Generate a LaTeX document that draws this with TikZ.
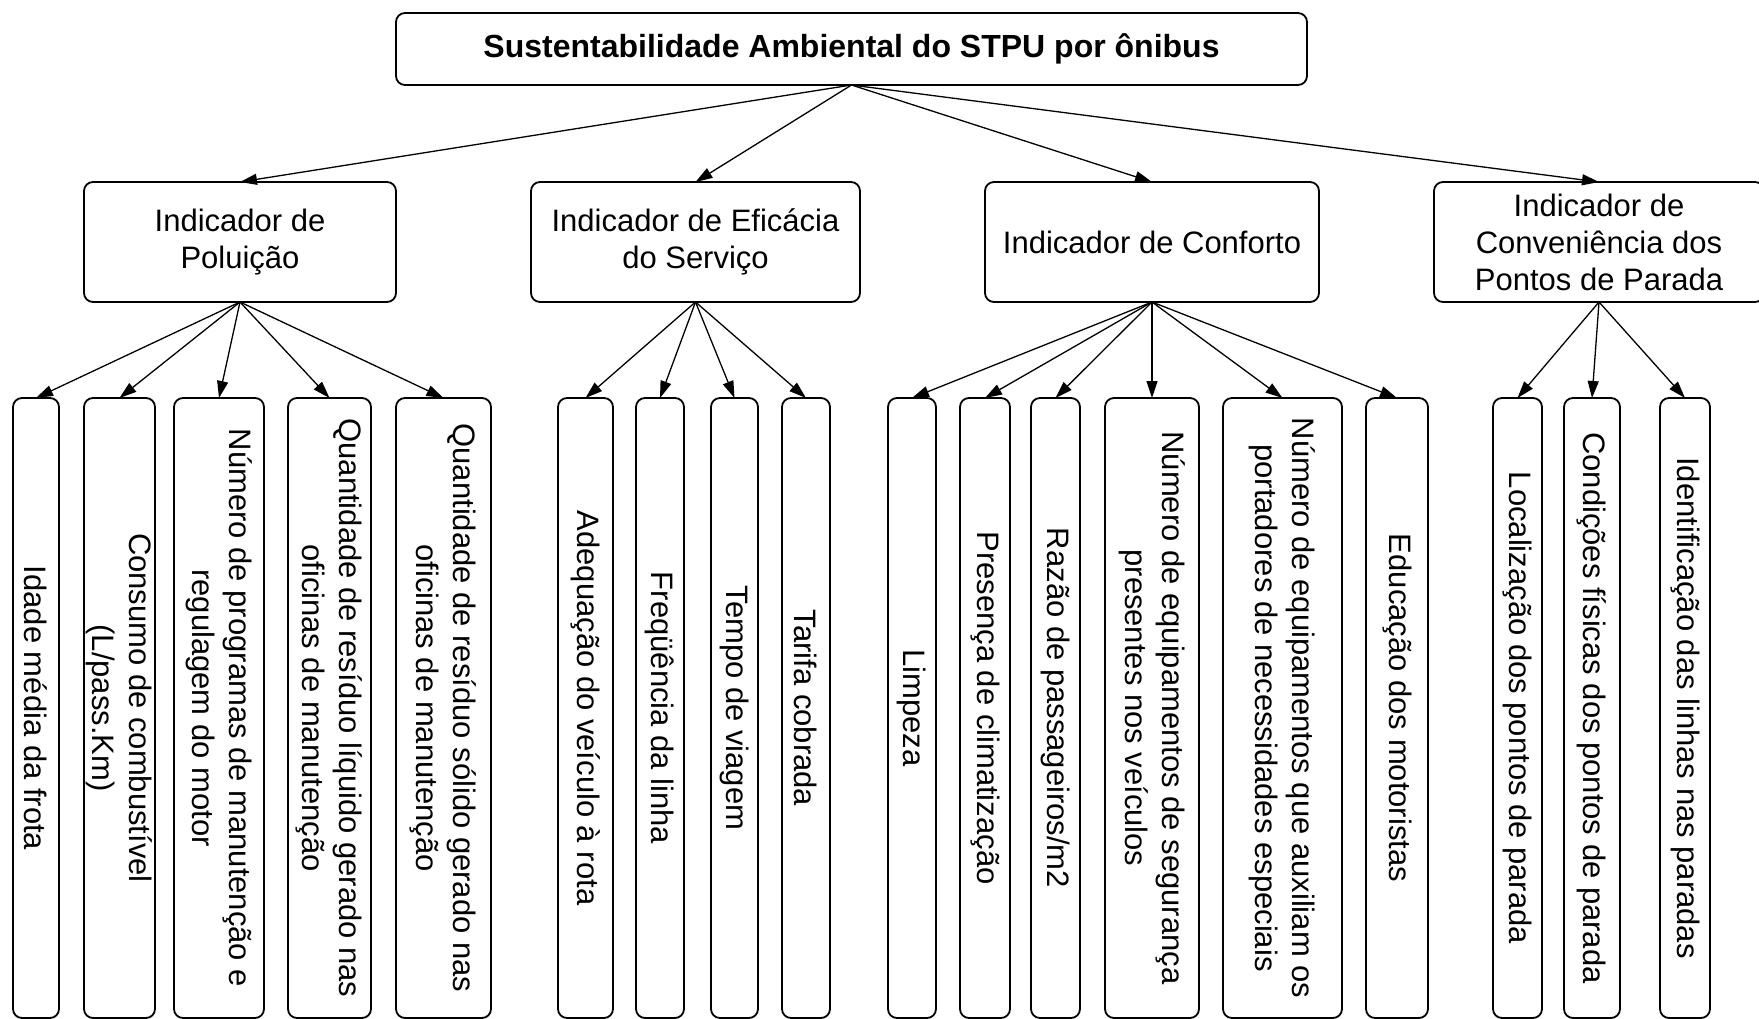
\documentclass[tikz,border=0pt]{standalone}
\usepackage{fontspec}
\setmainfont{Liberation Sans}
\usetikzlibrary{arrows.meta}
\begin{document}
\begin{tikzpicture}[x=1pt,y=-1pt,
  box/.style={draw=black, line width=1.8pt, rounded corners=9pt, inner sep=0pt, outer sep=0pt, fill=white},
  topbox/.style={box, minimum width=911pt, minimum height=72pt, font=\fontsize{32}{38}\selectfont\bfseries},
  midbox/.style={box, minimum height=120pt, align=center, font=\fontsize{31}{37}\selectfont},
  leafbox/.style={box, minimum height=620pt},
  leaftext/.style={rotate=-90, align=center, inner sep=0pt, font=\fontsize{31}{37}\selectfont},
  conn/.style={line width=1.3pt, -{Triangle[length=17pt,width=11pt]}}
]
\useasboundingbox (0,0) rectangle (1759,1019);

% top
\node[topbox] (top) at (851.5,49) {Sustentabilidade Ambiental do STPU por ônibus};

% level 2
\node[midbox, minimum width=312pt] (pol) at (240,242) {Indicador de\\Poluição};
\node[midbox, minimum width=329pt] (efi) at (695.5,242) {Indicador de Eficácia\\do Serviço};
\node[midbox, minimum width=334pt] (con) at (1152,242) {Indicador de Conforto};
\node[midbox, minimum width=330pt] (cnv) at (1599,242) {Indicador de\\Conveniência dos\\Pontos de Parada};

% level 3 boxes
\node[leafbox, minimum width=46pt]  (l1)  at (36,708) {};
\node[leafbox, minimum width=71pt]  (l2)  at (119.5,708) {};
\node[leafbox, minimum width=90pt]  (l3)  at (219,708) {};
\node[leafbox, minimum width=83pt]  (l4)  at (329.5,708) {};
\node[leafbox, minimum width=95pt]  (l5)  at (443.5,708) {};
\node[leafbox, minimum width=55pt]  (l6)  at (585.5,708) {};
\node[leafbox, minimum width=48pt]  (l7)  at (660,708) {};
\node[leafbox, minimum width=47pt]  (l8)  at (734.5,708) {};
\node[leafbox, minimum width=48pt]  (l9)  at (806,708) {};
\node[leafbox, minimum width=48pt]  (l10) at (912,708) {};
\node[leafbox, minimum width=50pt]  (l11) at (985,708) {};
\node[leafbox, minimum width=49pt]  (l12) at (1055.5,708) {};
\node[leafbox, minimum width=94pt]  (l13) at (1152,708) {};
\node[leafbox, minimum width=119pt] (l14) at (1282.5,708) {};
\node[leafbox, minimum width=62pt]  (l15) at (1397,708) {};
\node[leafbox, minimum width=49pt]  (l16) at (1517.5,708) {};
\node[leafbox, minimum width=56pt]  (l17) at (1592,708) {};
\node[leafbox, minimum width=50pt]  (l18) at (1685,708) {};

% level 3 texts
\node[leaftext] (t1)  at (l1.center)  {Idade média da frota};
\node[leaftext] (t2)  at (l2.center)  {Consumo de combustível\\(L/pass.Km)};
\node[leaftext] (t3)  at (l3.center)  {Número de programas de manutenção e\\regulagem do motor};
\node[leaftext] (t4)  at (l4.center)  {Quantidade de resíduo líquido gerado nas\\oficinas de manutenção};
\node[leaftext] (t5)  at (l5.center)  {Quantidade de resíduo sólido gerado nas\\oficinas de manutenção};
\node[leaftext] (t6)  at (l6.center)  {Adequação do veículo à rota};
\node[leaftext] (t7)  at (l7.center)  {Freqüência da linha};
\node[leaftext] (t8)  at (l8.center)  {Tempo de viagem};
\node[leaftext] (t9)  at (l9.center)  {Tarifa cobrada};
\node[leaftext] (t10) at (l10.center) {Limpeza};
\node[leaftext] (t11) at (l11.center) {Presença de climatização};
\node[leaftext] (t12) at (l12.center) {Razão de passageiros/m2};
\node[leaftext] (t13) at (l13.center) {Número de equipamentos de segurança\\presentes nos veículos};
\node[leaftext] (t14) at (l14.center) {Número de equipamentos que auxiliam os\\portadores de necessidades especiais};
\node[leaftext] (t15) at (l15.center) {Educação dos motoristas};
\node[leaftext] (t16) at (l16.center) {Localização dos pontos de parada};
\node[leaftext] (t17) at (l17.center) {Condições físicas dos pontos de parada};
\node[leaftext] (t18) at (l18.center) {Identificação das linhas nas paradas};

% connectors
\foreach \t in {pol,efi,con,cnv} \draw[conn] (top.south) -- (\t.north);
\foreach \t in {l1,l2,l3,l4,l5} \draw[conn] (pol.south) -- (\t.north);
\foreach \t in {l6,l7,l8,l9} \draw[conn] (efi.south) -- (\t.north);
\foreach \t in {l10,l11,l12,l13,l14,l15} \draw[conn] (con.south) -- (\t.north);
\foreach \t in {l16,l17,l18} \draw[conn] (cnv.south) -- (\t.north);
\end{tikzpicture}
\end{document}
